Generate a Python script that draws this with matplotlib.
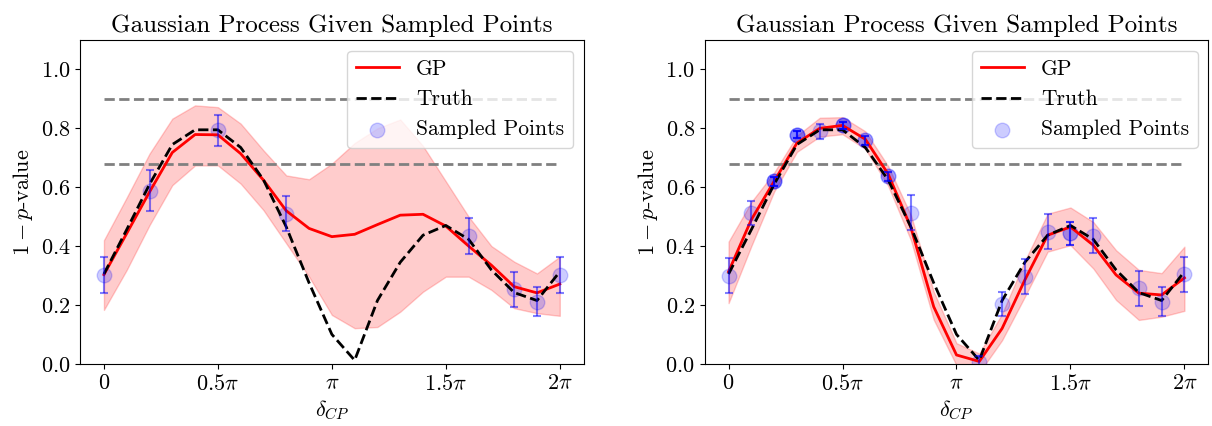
import numpy as np
import matplotlib
matplotlib.use("Agg")
import matplotlib.pyplot as plt

plt.rcParams["font.family"] = "serif"
plt.rcParams["font.serif"] = ["cmr10"]
plt.rcParams["mathtext.fontset"] = "cm"
plt.rcParams["axes.formatter.use_mathtext"] = True

# ---------- data (delta_CP grid in units of pi) ----------
grid_pi = [0.0, 0.1, 0.2, 0.3, 0.4, 0.5, 0.6, 0.7, 0.8, 0.9, 1.0,
           1.1, 1.2, 1.3, 1.4, 1.5, 1.6, 1.7, 1.8, 1.9, 2.0]

truth = [0.305, 0.456, 0.61, 0.745, 0.795, 0.795, 0.735, 0.625, 0.465, 0.275, 0.10,
         0.012, 0.215, 0.345, 0.437, 0.47, 0.423, 0.319, 0.242, 0.215, 0.313]

# left: few samples
gp_a = [0.303, 0.443, 0.584, 0.718, 0.779, 0.778, 0.714, 0.624, 0.52, 0.46, 0.432,
        0.44, 0.473, 0.505, 0.508, 0.468, 0.400, 0.335, 0.262, 0.241, 0.271]
hi_a = [0.42, 0.565, 0.714, 0.833, 0.878, 0.872, 0.816, 0.725, 0.64, 0.627, 0.68,
        0.75, 0.80, 0.83, 0.74, 0.62, 0.50, 0.40, 0.347, 0.307, 0.364]
lo_a = [0.183, 0.319, 0.471, 0.607, 0.674, 0.674, 0.612, 0.522, 0.409, 0.296, 0.166,
        0.121, 0.125, 0.177, 0.245, 0.296, 0.296, 0.251, 0.189, 0.172, 0.163]
samp_x_a = [0.0, 0.2, 0.5, 0.8, 1.6, 1.8, 1.9, 2.0]
samp_y_a = [0.302, 0.588, 0.793, 0.51, 0.434, 0.253, 0.211, 0.302]
samp_e_a = [0.061, 0.07, 0.052, 0.06, 0.06, 0.06, 0.05, 0.06]

# right: more samples (repeated points near the peak)
gp_b = [0.313, 0.49, 0.62, 0.75, 0.80, 0.81, 0.763, 0.645, 0.463, 0.194, 0.03,
        0.008, 0.12, 0.285, 0.437, 0.465, 0.403, 0.302, 0.24, 0.234, 0.292]
hi_b = [0.415, 0.55, 0.65, 0.775, 0.836, 0.838, 0.79, 0.672, 0.505, 0.245, 0.07,
        0.035, 0.17, 0.35, 0.51, 0.531, 0.482, 0.386, 0.319, 0.308, 0.398]
lo_b = [0.206, 0.40, 0.585, 0.72, 0.772, 0.78, 0.73, 0.605, 0.42, 0.15, -0.005,
        -0.03, 0.08, 0.228, 0.381, 0.403, 0.324, 0.217, 0.149, 0.16, 0.18]
samp_x_b = [0.0, 0.1, 0.2, 0.2, 0.2, 0.3, 0.3, 0.3, 0.4, 0.5, 0.5, 0.5, 0.6, 0.6,
            0.7, 0.7, 0.8, 1.1, 1.2, 1.3, 1.4, 1.5, 1.5, 1.6, 1.8, 1.9, 2.0]
samp_y_b = [0.30, 0.513, 0.62, 0.62, 0.62, 0.778, 0.778, 0.778, 0.79, 0.81, 0.81, 0.81,
            0.76, 0.76, 0.637, 0.637, 0.513, 0.005, 0.203, 0.296, 0.449, 0.443, 0.443,
            0.435, 0.257, 0.211, 0.304]
samp_e_b = [0.06, 0.04, 0.015, 0.015, 0.015, 0.012, 0.012, 0.012, 0.025, 0.012, 0.012, 0.012,
            0.015, 0.015, 0.015, 0.015, 0.06, 0.02, 0.04, 0.06, 0.06, 0.04, 0.04,
            0.06, 0.06, 0.05, 0.06]

levels = [0.9, 0.68]
tick_pi = [0, 0.5, 1, 1.5, 2]
tick_lbl = [r"$0$", r"$0.5\pi$", r"$\pi$", r"$1.5\pi$", r"$2\pi$"]


def draw(ax, gp, hi, lo, sx, sy, se):
    x = np.array(grid_pi) * np.pi
    ax.hlines(levels, 0, 2 * np.pi, colors="grey", linestyles="--", lw=2)
    ax.fill_between(x, lo, hi, color="red", alpha=0.2)
    ax.plot(x, gp, color="red", lw=2, label="GP")
    ax.plot(x, truth, "k--", lw=2, label="Truth")
    px = np.array(sx) * np.pi
    ax.scatter(px, sy, s=110, color="blue", alpha=0.2, label="Sampled Points")
    ax.errorbar(px, sy, yerr=se, fmt="none", ecolor="blue", alpha=0.5,
                capsize=3, elinewidth=1.5, capthick=1.5)
    ax.set_xlim(-0.33, 2 * np.pi + 0.33)
    ax.set_ylim(0, 1.1)
    ax.set_yticks([0.0, 0.2, 0.4, 0.6, 0.8, 1.0])
    ax.set_xticks(np.array(tick_pi) * np.pi)
    ax.set_xticklabels(tick_lbl)
    ax.tick_params(labelsize=16)
    ax.set_xlabel(r"$\delta_{CP}$", fontsize=16)
    ax.set_ylabel(r"$1-p$-value", fontsize=16)
    ax.set_title("Gaussian Process Given Sampled Points", fontsize=18)
    ax.legend(loc="upper right", fontsize=15.5)


fig, (ax1, ax2) = plt.subplots(1, 2, figsize=(12.12, 4.26), dpi=100)
fig.subplots_adjust(left=0.066, right=0.997, bottom=0.146, top=0.906, wspace=0.24)
draw(ax1, gp_a, hi_a, lo_a, samp_x_a, samp_y_a, samp_e_a)
draw(ax2, gp_b, hi_b, lo_b, samp_x_b, samp_y_b, samp_e_b)

fig.savefig("out.png", dpi=100)
